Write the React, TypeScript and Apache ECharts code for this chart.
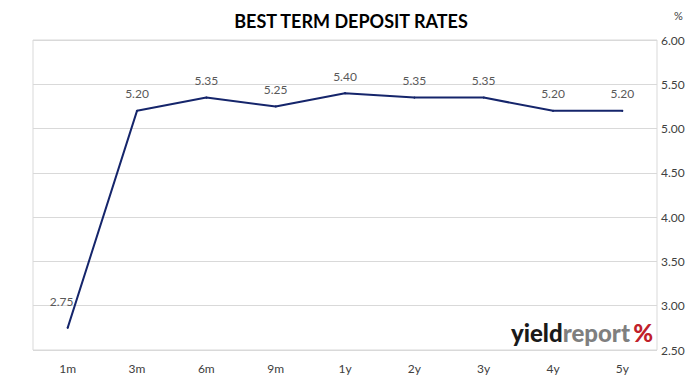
import React, { useEffect, useRef } from "react";
import * as echarts from "echarts";

const categories = ["1m", "3m", "6m", "9m", "1y", "2y", "3y", "4y", "5y"];
const rates = [2.75, 5.2, 5.35, 5.25, 5.4, 5.35, 5.35, 5.2, 5.2];
const yMin = 2.5;
const yMax = 6.0;
const yStep = 0.5;

export default function App() {
  const ref = useRef<HTMLDivElement>(null);
  useEffect(() => {
    document.body.style.margin = "0";
    const chart = echarts.init(ref.current!, undefined, { renderer: "svg" });
    const font = "Lato, 'Open Sans', sans-serif";
    chart.setOption({
      animation: false,
      backgroundColor: "#ffffff",
      textStyle: { fontFamily: font },
      title: {
        text: "BEST TERM DEPOSIT RATES",
        left: 346,
        textAlign: "center",
        top: 7,
        textStyle: { fontFamily: font, fontSize: 18, fontWeight: "bold", color: "#000000" },
      },
      grid: {
        left: 33,
        right: 42,
        top: 40,
        bottom: 33,
        show: true,
        borderColor: "#d9d9d9",
        borderWidth: 1,
      },
      xAxis: {
        type: "category",
        data: categories,
        boundaryGap: true,
        axisLine: { show: false },
        axisTick: { show: false },
        splitLine: { show: false },
        axisLabel: { color: "#404040", fontSize: 12, margin: 12, fontFamily: font },
      },
      yAxis: {
        type: "value",
        position: "right",
        min: yMin,
        max: yMax,
        interval: yStep,
        axisLine: { show: false },
        axisTick: { show: false },
        splitLine: { lineStyle: { color: "#d9d9d9", width: 1 } },
        axisLabel: {
          color: "#404040",
          fontSize: 12,
          margin: 4,
          fontFamily: font,
          formatter: (v: number) => v.toFixed(2),
        },
      },
      series: [
        {
          type: "line",
          data: rates.map((v, i) =>
            i === 0
              ? { value: v, label: { offset: [-6, -9] } }
              : { value: v }
          ),
          symbol: "circle",
          symbolSize: 2,
          showSymbol: true,
          itemStyle: { color: "#15256b" },
          lineStyle: { color: "#15256b", width: 2 },
          label: {
            show: true,
            position: "top",
            distance: 10,
            color: "#595959",
            fontSize: 12,
            fontFamily: font,
            formatter: (p: any) => Number(p.value).toFixed(2),
          },
        },
      ],
      graphic: [
        {
          type: "text",
          left: 674,
          top: 10,
          style: { text: "%", fontSize: 11, fill: "#404040", fontFamily: font },
        },
        {
          type: "text",
          left: 511,
          top: 320,
          style: {
            text: "{a|yield}{b|report} {c|%}",
            rich: {
              a: { fontSize: 24, fontWeight: 900, fill: "#1a1a1a", fontFamily: font },
              b: { fontSize: 24, fontWeight: 900, fill: "#7f7f7f", fontFamily: font },
              c: { fontSize: 24, fontWeight: 900, fill: "#c0202a", fontFamily: font },
            },
          },
        },
      ],
    });
    return () => chart.dispose();
  }, []);
  return <div ref={ref} style={{ width: 699, height: 383 }} />;
}
